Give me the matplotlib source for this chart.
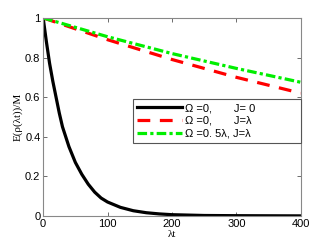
import matplotlib
matplotlib.use("Agg")
import matplotlib.pyplot as plt
import numpy as np

# values
lt_black = [0, 5, 10, 15, 20, 25, 30, 40, 50, 60, 70, 80, 90, 100, 120, 140, 160, 180, 200, 250, 300, 350, 400]
e_black = [1.0, 0.88, 0.77, 0.68, 0.60, 0.52, 0.45, 0.35, 0.27, 0.21, 0.16, 0.12, 0.09, 0.07, 0.043, 0.026,
           0.016, 0.01, 0.006, 0.002, 0.001, 0.0005, 0.0]
lt_lines = [0, 100, 200, 300, 400]
e_red = [1.0, 0.89, 0.79, 0.70, 0.62]
e_green = [1.0, 0.905, 0.82, 0.745, 0.675]

labels = ["\u03a9 =0,       J= 0", "\u03a9 =0,       J=\u03bb", "\u03a9 =0. 5\u03bb, J=\u03bb"]

plt.rcParams['font.family'] = ['Liberation Sans', 'DejaVu Sans']
fig = plt.figure(figsize=(3.32, 2.49), dpi=100)
ax = fig.add_axes([0.13, 0.133, 0.776, 0.795])

ax.plot(lt_black, e_black, color='black', lw=2.3, label=labels[0])
ax.plot(lt_lines, e_red, color='red', lw=2.3, ls=(0, (4, 3)), label=labels[1])
ax.plot(lt_lines, e_green, color='#00ee00', lw=2.3, ls=(0, (3, 1, 1, 1)), label=labels[2])

ax.set_xlim(0, 400)
ax.set_ylim(0, 1)
ax.set_xticks([0, 100, 200, 300, 400])
ax.set_yticks([0, 0.2, 0.4, 0.6, 0.8, 1])
ax.set_yticklabels(['0', '0.2', '0.4', '0.6', '0.8', '1'])
ax.tick_params(direction='in', top=True, right=True, labelsize=8, length=3, width=0.6, color='#555555', pad=2)
for s in ax.spines.values():
    s.set_color('#888888')
    s.set_linewidth(0.8)

ax.set_xlabel('\u03bbt', family='Liberation Serif', fontsize=8, labelpad=1)
ax.set_ylabel('E(\u03c1(\u03bbt))/M', family='Liberation Serif', fontsize=8, labelpad=2)

leg = ax.legend(loc='lower left', bbox_to_anchor=(0.35, 0.37, 0.65, 0.265), mode='expand', fontsize=8,
                handlelength=4.0, handletextpad=0.3, borderpad=0.35, labelspacing=0.25,
                fancybox=False, framealpha=1, borderaxespad=0)
leg.get_frame().set_edgecolor('#555555')
leg.get_frame().set_linewidth(0.8)

fig.savefig('out.png', dpi=100)
